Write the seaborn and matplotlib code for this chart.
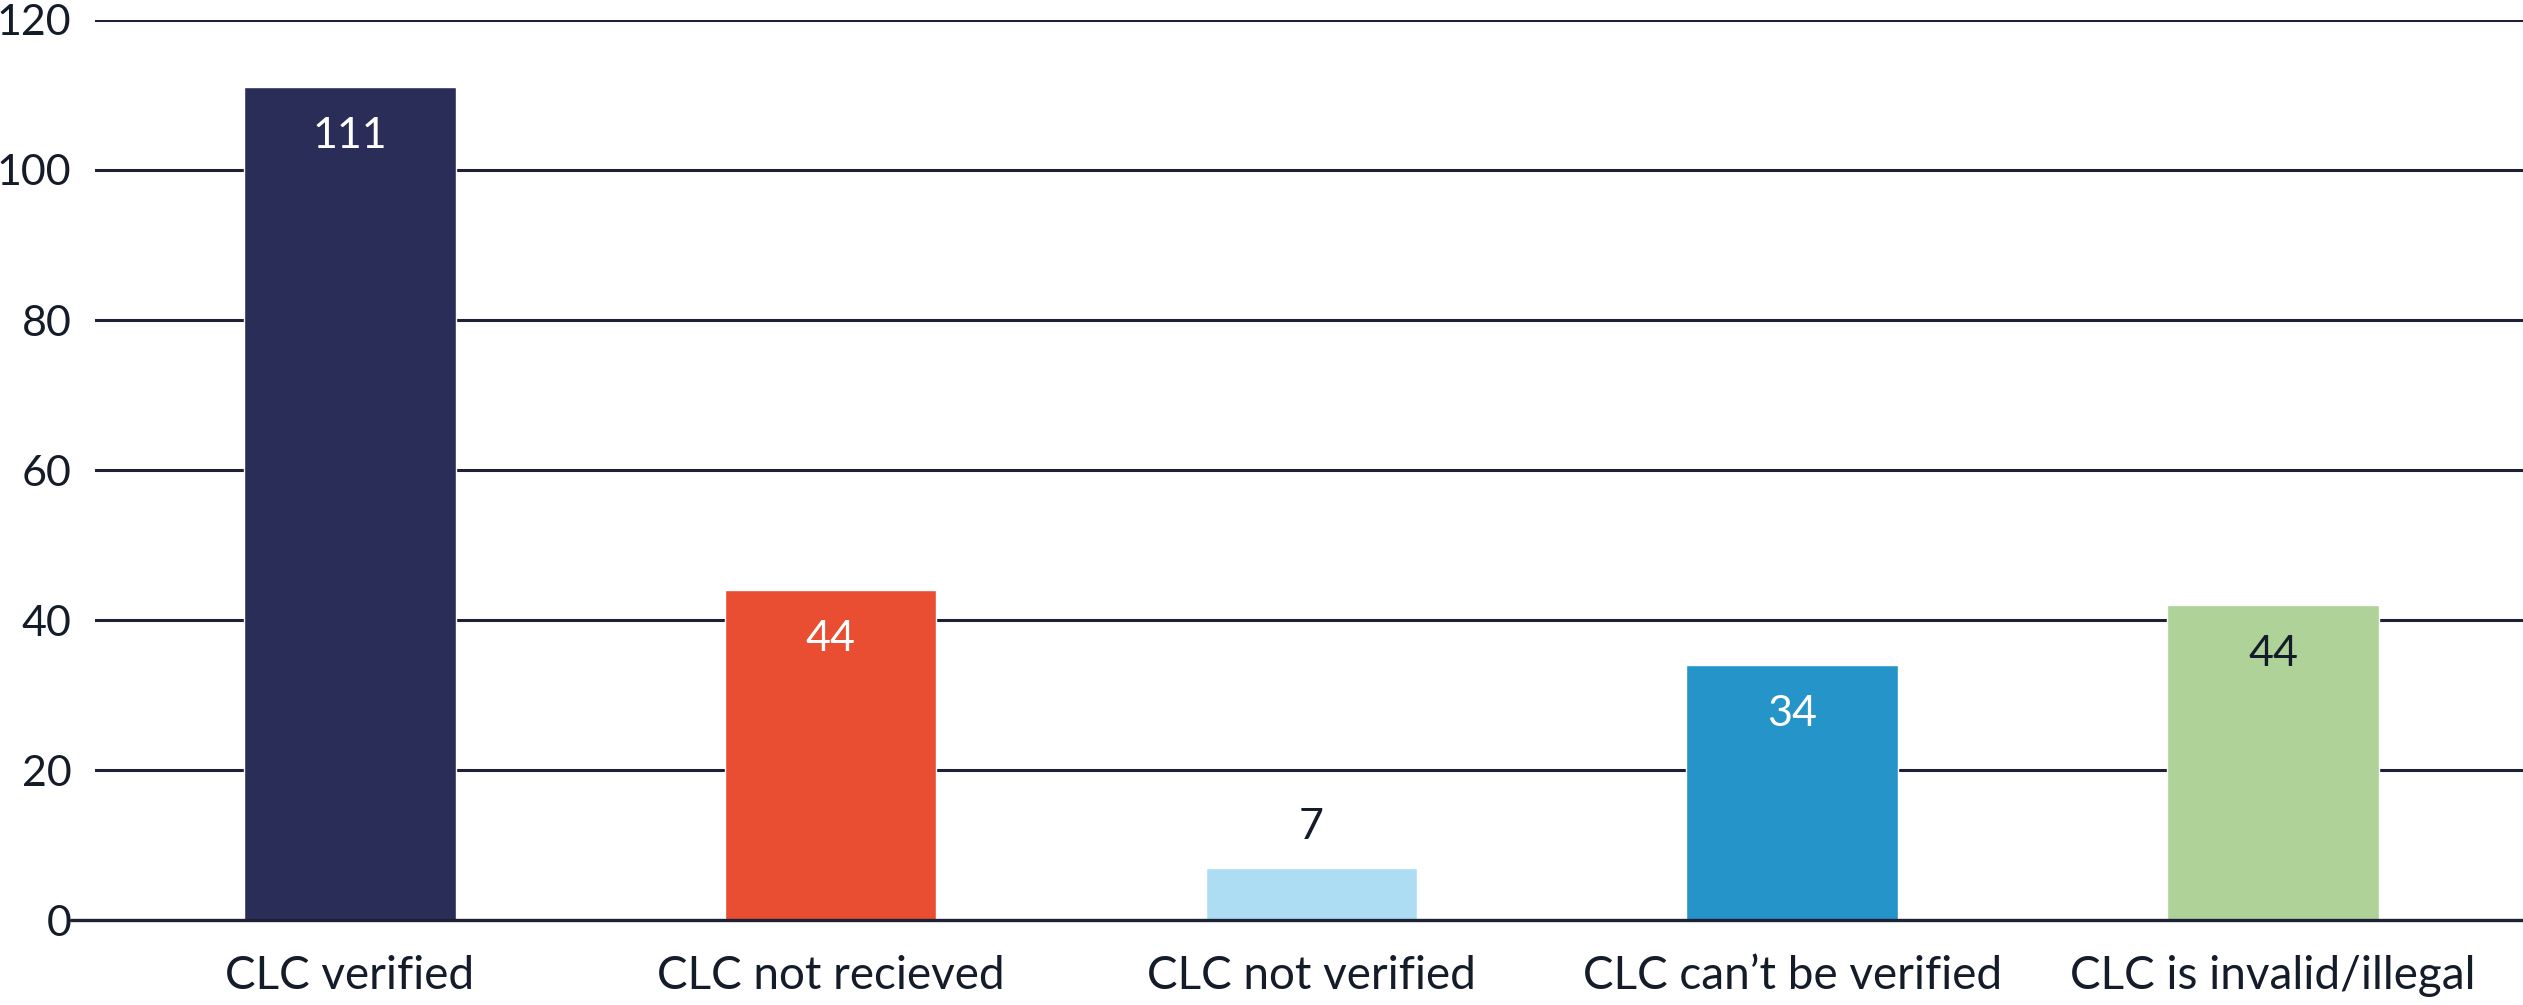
import seaborn as sns
import matplotlib.pyplot as plt
import pandas as pd

categories = ["CLC verified", "CLC not recieved", "CLC not verified",
              "CLC can\u2019t be verified", "CLC is invalid/illegal"]
values = [111, 44, 7, 34, 42]
value_labels = ["111", "44", "7", "34", "44"]
bar_colors = ["#2A2D57", "#E94D32", "#ADDDF2", "#2494C9", "#AFD298"]
label_colors = ["white", "white", "#141C2A", "white", "#141C2A"]
y_ticks = [0, 20, 40, 60, 80, 100, 120]

sns.set_style("white")
plt.rcParams["font.family"] = ["Lato", "DejaVu Sans"]

line_color = "#1E2035"
text_color = "#141C2A"

df = pd.DataFrame({"category": categories, "value": values})

fig = plt.figure(figsize=(25.23, 10.05), dpi=100)
ax = fig.add_axes([95 / 2523, 85 / 1005, 2428 / 2523, 900 / 1005])

sns.barplot(
    data=df, x="category", y="value", hue="category",
    palette=bar_colors, width=0.44, legend=False, ax=ax,
    saturation=1, zorder=3
)

ax.set_ylim(0, 120)
ax.set_xlim(-0.53, 4.52)
ax.set_yticks(y_ticks)
ax.set_yticklabels([str(t) for t in y_ticks])
for t in y_ticks[1:]:
    ax.axhline(t, color=line_color, lw=2.2, zorder=1)
# baseline sticks out a bit to the left
ax.plot([-0.01, 1], [0, 0], transform=ax.get_yaxis_transform(),
        color=line_color, lw=2.4, clip_on=False, zorder=4)

for s in ax.spines.values():
    s.set_visible(False)
ax.tick_params(axis="both", length=0, colors=text_color)
ax.tick_params(axis="y", pad=17, labelsize=31)
ax.tick_params(axis="x", pad=25, labelsize=33)
ax.set_xlabel("")
ax.set_ylabel("")

for i, (v, lab, c) in enumerate(zip(values, value_labels, label_colors)):
    if v > 15:
        off = -35
    else:
        off = 29
    ax.annotate(lab, (i, v), xytext=(0, off), textcoords="offset points",
                ha="center", va="center", fontsize=31, color=c, zorder=5)

fig.savefig("out.png", dpi=100)
